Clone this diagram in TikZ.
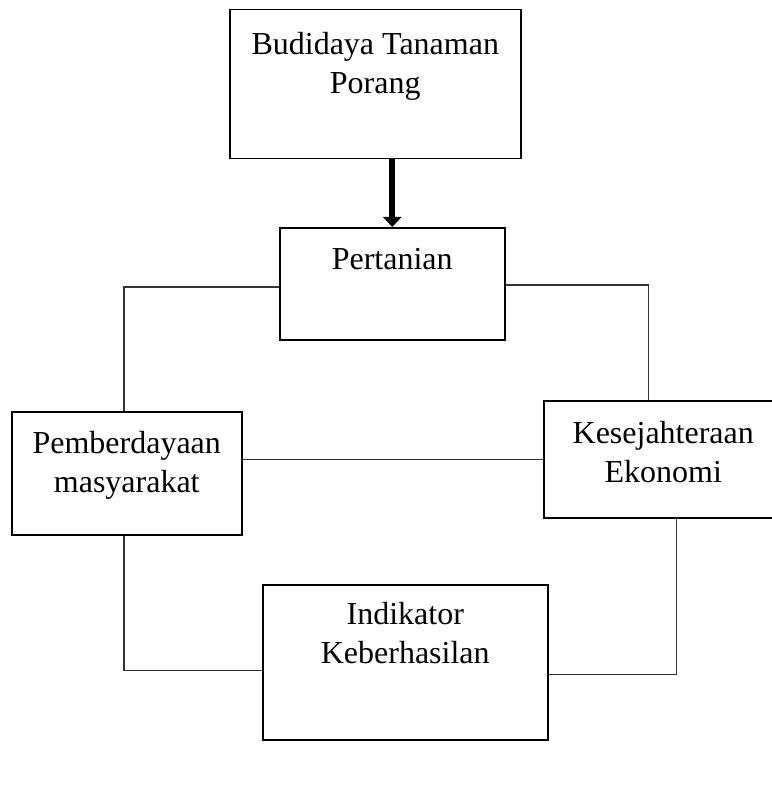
\documentclass[tikz,border=0pt]{standalone}
\usepackage{fontspec}
\setmainfont{Liberation Serif}
\usetikzlibrary{arrows.meta}
\tikzstyle{kotak} = [draw, line width=1.5pt, inner sep=0pt, anchor=north west, font=\fontsize{32}{39}\selectfont]
\tikzstyle{garis} = [line width=1.5pt, black!80]
\newcommand{\isikotak}[4]{\parbox[c][#2pt][t]{#1pt}{\centering\vspace*{#3pt}\strut#4}}

\begin{document}
\begin{tikzpicture}[x=1pt,y=-1pt]
			\useasboundingbox (0,0) rectangle (771,810);
			\node[kotak] (budidaya) at (229,9) {\isikotak{291}{149}{17}{Budidaya Tanaman\\Porang}};
			\node[kotak] (pertanian) at (279,227) {\isikotak{225}{112}{14}{Pertanian}};
			\node[kotak] (pemberdayaan) at (11,411) {\isikotak{230}{123}{14}{Pemberdayaan\\masyarakat}};
			\node[kotak] (kesejahteraan) at (543,400) {\isikotak{239}{117}{15}{Kesejahteraan\\Ekonomi}};
			\node[kotak] (indikator) at (262,584) {\isikotak{285}{155}{12}{Indikator\\Keberhasilan}};
			
			\draw[line width=6pt,-{Triangle[width=18pt,length=10pt]}] (pertanian.north |- budidaya.south) -- (pertanian.north);
			\draw[garis] ([yshift=-3pt]pertanian.west) -| ([xshift=-3pt]pemberdayaan.north);
			\draw[garis] ([yshift=-1pt]pertanian.east) -| ([xshift=-15pt]kesejahteraan.north);
			\draw[garis] (kesejahteraan.west) -- (kesejahteraan.west -| pemberdayaan.east);
			\draw[garis] ([xshift=-3pt]pemberdayaan.south) |- ([yshift=-8pt]indikator.west);
			\draw[garis] ([xshift=13pt]kesejahteraan.south) |- ([yshift=-12pt]indikator.east);
			
		\end{tikzpicture}
\end{document}
